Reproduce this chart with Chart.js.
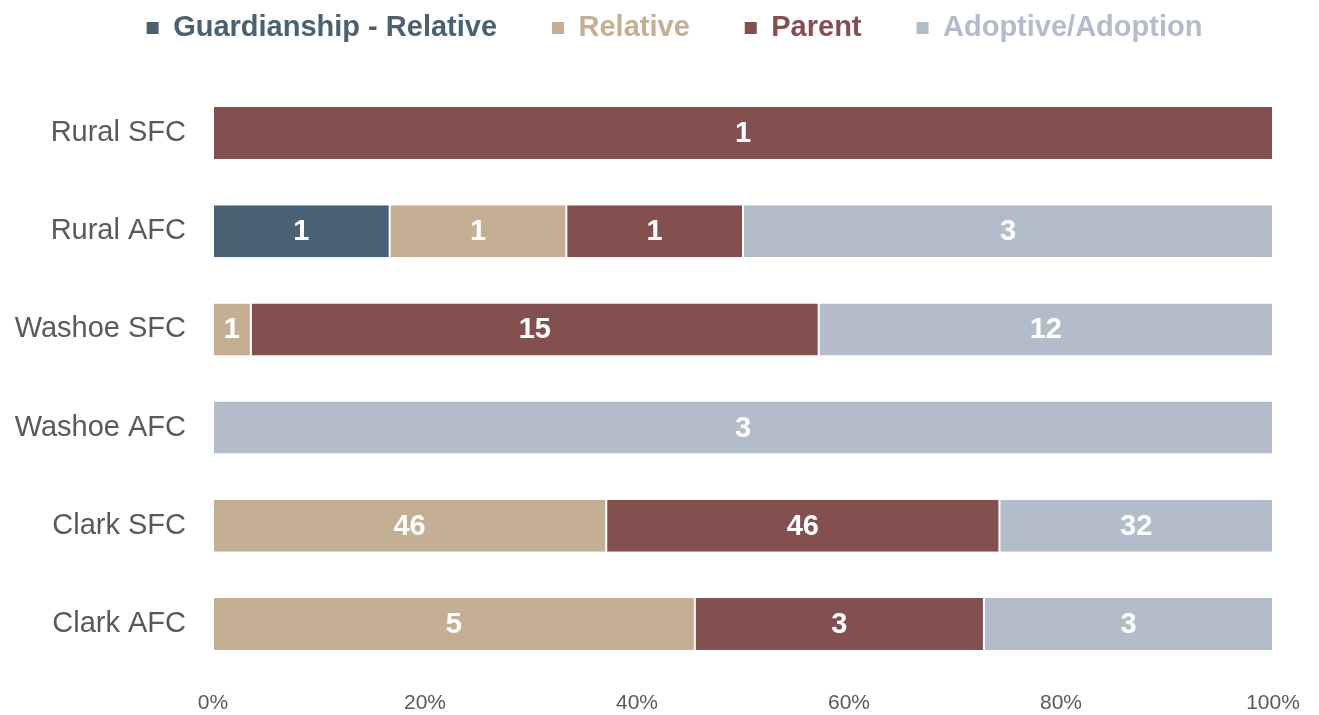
<!DOCTYPE html>
<html>
<head>
<meta charset="utf-8">
<script src="https://cdn.jsdelivr.net/npm/chart.js@4"></script>
<style>
  html, body { margin: 0; padding: 0; background: #fff; }
  #wrap { width: 1319px; height: 715px; }
</style>
</head>
<body>
<div id="wrap"><canvas id="c"></canvas></div>
<script>
const categories = ["Rural SFC", "Rural AFC", "Washoe SFC", "Washoe AFC", "Clark SFC", "Clark AFC"];
const guardianship = [0, 1, 0, 0, 0, 0];
const relative     = [0, 1, 1, 0, 46, 5];
const parent       = [1, 1, 15, 0, 46, 3];
const adoptive     = [0, 3, 12, 3, 32, 3];
const xTicks = [0, 20, 40, 60, 80, 100];

const seriesNames  = ["Guardianship - Relative", "Relative", "Parent", "Adoptive/Adoption"];
const seriesCounts = [guardianship, relative, parent, adoptive];
const seriesColors = ["#4a6073", "#c4ae94", "#84504f", "#b3bccb"];

const FONT = "'Liberation Sans', Arial, sans-serif";
const totals = categories.map((_, i) => seriesCounts.reduce((s, arr) => s + arr[i], 0));

const datasets = seriesNames.map((name, k) => ({
  label: name,
  data: seriesCounts[k].map((v, i) => totals[i] ? v / totals[i] * 100 : 0),
  counts: seriesCounts[k],
  backgroundColor: seriesColors[k],
  borderColor: "#ffffff",
  borderWidth: { left: 1, right: 1, top: 0, bottom: 0 },
  borderSkipped: false,
  categoryPercentage: 1,
  barPercentage: 0.53
}));

const labelPlugin = {
  id: "barLabels",
  afterDatasetsDraw(chart) {
    const ctx = chart.ctx;
    ctx.save();
    ctx.font = "bold 29px " + FONT;
    ctx.fillStyle = "#ffffff";
    ctx.textAlign = "center";
    ctx.textBaseline = "middle";
    chart.data.datasets.forEach((ds, di) => {
      const meta = chart.getDatasetMeta(di);
      meta.data.forEach((bar, i) => {
        const c = ds.counts[i];
        if (!c) return;
        const cx = (bar.x + bar.base) / 2;
        ctx.fillText(String(c), cx, bar.y + 1);
      });
    });
    ctx.restore();
  }
};

// extra room under the legend, and centre it over the span used in the original
const legendSpace = {
  id: "legendSpace",
  beforeLayout(chart) {
    const lg = chart.legend;
    if (lg && !lg._patched) {
      const orig = lg.fit;
      lg.fit = function () { orig.call(this); this.height += 31.5; };
      lg._patched = true;
    }
  },
  afterLayout(chart) {
    if (chart.legend) chart.legend.left = 76;
  }
};

new Chart(document.getElementById("c"), {
  type: "bar",
  data: { labels: categories, datasets },
  options: {
    indexAxis: "y",
    responsive: true,
    maintainAspectRatio: false,
    animation: false,
    layout: { padding: { left: 0, right: 46, top: -41.5, bottom: 0 } },
    plugins: {
      tooltip: { enabled: false },
      legend: {
        position: "top",
        labels: {
          boxWidth: 12,
          boxHeight: 12,
          padding: 55,
          font: { family: FONT, size: 29, weight: "bold" },
          generateLabels(chart) {
            return chart.data.datasets.map((ds, i) => ({
              text: ds.label,
              fillStyle: ds.backgroundColor,
              strokeStyle: ds.backgroundColor,
              lineWidth: 0,
              fontColor: ds.backgroundColor,
              datasetIndex: i,
              hidden: false
            }));
          }
        }
      }
    },
    scales: {
      x: {
        stacked: true,
        min: 0,
        max: 100,
        afterBuildTicks(scale) { scale.ticks = xTicks.map(v => ({ value: v })); },
        afterFit(scale) { scale.height = 42; },
        grid: { display: false, drawTicks: false },
        border: { display: false },
        ticks: {
          padding: 17.5,
          color: "#595959",
          font: { family: FONT, size: 21 },
          callback: v => v + "%"
        }
      },
      y: {
        stacked: true,
        grid: { display: false, drawTicks: false },
        border: { display: false },
        afterFit(scale) {
          scale.width = 213;
          scale.paddingTop = 0;
          scale.paddingBottom = 0;
        },
        ticks: {
          padding: 27,
          color: "#595959",
          font: { family: FONT, size: 29 }
        }
      }
    }
  },
  plugins: [labelPlugin, legendSpace]
});
</script>
</body>
</html>
